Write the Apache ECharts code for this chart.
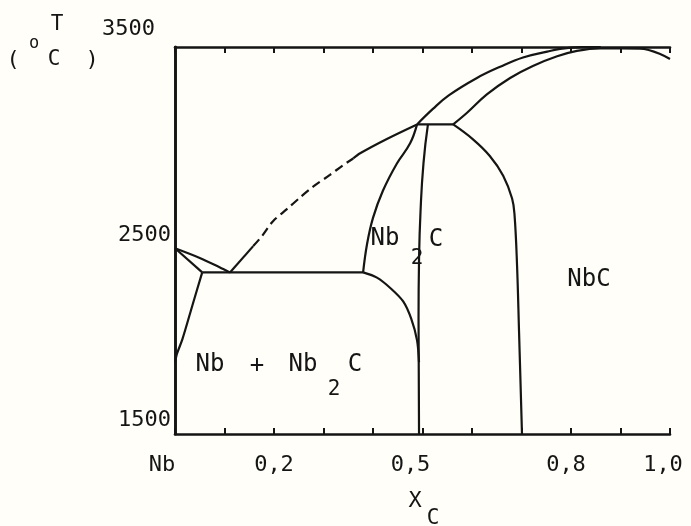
<!DOCTYPE html>
<html>
<head>
<meta charset="utf-8">
<script src="https://cdn.jsdelivr.net/npm/echarts@6/dist/echarts.min.js"></script>
<style>
  html, body { margin: 0; padding: 0; background: #fffef8; }
  #chart { width: 691px; height: 526px; }
</style>
</head>
<body>
<div id="chart"></div>
<script>
// Nb–C phase diagram: composition x_C (0..1) against temperature in °C.

// Axis tick labels
const xLabelValues = [0, 0.2, 0.5, 0.8, 1.0];
const xLabelTexts = ['Nb', '0,2', '0,5', '0,8', '1,0'];
const yLabelValues = [1500, 2500, 3500];

// Phase boundaries, [x_C, T]
const nbLiquidus = [[0, 2460], [0.05, 2410], [0.09, 2362], [0.111, 2335]];
const nbSolidus = [[0, 2460], [0.055, 2335]];
const nbSolvus = [[0.055, 2335], [0.036, 2172], [0.015, 1990], [0.004, 1915], [0, 1870]];
const eutecticLine = [[0.055, 2335], [0.38, 2335]];
const liquidusLowSolid = [[0.111, 2335], [0.158, 2471]];
const liquidusLowDashed = [[0.158, 2471], [0.176, 2524], [0.198, 2600], [0.226, 2662], [0.253, 2723],
                           [0.279, 2778], [0.313, 2839], [0.339, 2888], [0.36, 2924]];
const liquidusMidSolid = [[0.36, 2924], [0.374, 2951], [0.428, 3025], [0.489, 3100]];
const nb2cLeft = [[0.38, 2335], [0.388, 2482], [0.40, 2617], [0.42, 2757], [0.448, 2897], [0.475, 3002], [0.489, 3100]];
const nb2cSolvus = [[0.38, 2335], [0.408, 2308], [0.436, 2252], [0.461, 2185], [0.477, 2097], [0.489, 1984], [0.493, 1871]];
const nb2cRight = [[0.511, 3100], [0.502, 2900], [0.496, 2650], [0.493, 2400], [0.492, 2100], [0.493, 1500]];
const peritecticLine = [[0.489, 3100], [0.562, 3100]];
const nbcLeft = [[0.562, 3100], [0.602, 3023], [0.636, 2937], [0.663, 2835], [0.681, 2717], [0.686, 2630],
                 [0.691, 2372], [0.695, 2032], [0.701, 1500]];
const liquidusHigh = [[0.489, 3100], [0.521, 3180], [0.553, 3250], [0.610, 3340], [0.657, 3398], [0.703, 3446],
                      [0.752, 3476], [0.778, 3490], [0.82, 3499], [0.86, 3500]];
const nbcSolidus = [[0.562, 3100], [0.590, 3160], [0.630, 3255], [0.677, 3340], [0.723, 3402], [0.772, 3452],
                    [0.812, 3480], [0.859, 3493], [0.939, 3492], [1.0, 3438]];

const INK = '#151515';
const FONT = 'DejaVu Sans Mono';

function boundary(data, opts) {
  opts = opts || {};
  return {
    type: 'line',
    data: data,
    showSymbol: false,
    silent: true,
    smooth: opts.smooth || 0,
    lineStyle: { color: INK, width: 2.2, type: opts.dash || 'solid' },
    z: 3
  };
}

const chart = echarts.init(document.getElementById('chart'), null, { renderer: 'canvas' });

function xLabel(v) {
  const r = Math.round(v * 10) / 10;
  const i = xLabelValues.findIndex(t => Math.abs(t - r) < 1e-6);
  if (i < 0 || Math.abs(v - r) > 1e-6) return '';
  return '{l' + i + '|' + xLabelTexts[i] + '}';
}
function yLabel(v) {
  const i = yLabelValues.indexOf(v);
  if (i < 0) return '';
  return '{y' + i + '|' + v + '}';
}

const labelFont = { fontFamily: FONT, fontSize: 22, color: INK };

chart.setOption({
  backgroundColor: '#fffef8',
  animation: false,
  grid: { left: 175, right: 21, top: 47, bottom: 92 },
  xAxis: [{
    type: 'value', min: 0, max: 1, interval: 0.1, position: 'bottom',
    axisLine: { lineStyle: { color: INK, width: 2.6 } },
    axisTick: { inside: true, length: 6, lineStyle: { color: INK, width: 2 } },
    splitLine: { show: false },
    axisLabel: {
      margin: 20, formatter: xLabel,
      rich: {
        l0: Object.assign({ padding: [0, 26, 0, 0] }, labelFont),
        l1: Object.assign({ padding: [0, 0, 0, 0] }, labelFont),
        l2: Object.assign({ padding: [0, 24, 0, 0] }, labelFont),
        l3: Object.assign({ padding: [0, 10, 0, 0] }, labelFont),
        l4: Object.assign({ padding: [0, 14, 0, 0] }, labelFont)
      }
    }
  }, {
    type: 'value', min: 0, max: 1, interval: 0.1, position: 'top',
    axisLine: { lineStyle: { color: INK, width: 2.6 } },
    axisTick: { inside: true, length: 6, lineStyle: { color: INK, width: 2 } },
    axisLabel: { show: false },
    splitLine: { show: false }
  }],
  yAxis: [{
    type: 'value', min: 1500, max: 3500, interval: 500, position: 'left',
    axisLine: { show: true, lineStyle: { color: INK, width: 2.6 } },
    axisTick: { show: false },
    splitLine: { show: false },
    axisLabel: {
      margin: 4, formatter: yLabel,
      rich: {
        y0: Object.assign({ padding: [0, 0, 28, 0] }, labelFont),
        y1: Object.assign({ padding: [0, 0, 11, 0] }, labelFont),
        y2: Object.assign({ padding: [0, 16, 36, 0] }, labelFont)
      }
    }
  }, {
    type: 'value', min: 1500, max: 3500, interval: 500, position: 'right',
    axisLine: { show: true, lineStyle: { color: INK, width: 2.6 } },
    axisTick: { show: false },
    axisLabel: { show: false },
    splitLine: { show: false }
  }],
  series: [
    boundary(nbLiquidus, { smooth: 0.3 }),
    boundary(nbSolidus),
    boundary(nbSolvus, { smooth: 0.3 }),
    boundary(eutecticLine),
    boundary(liquidusLowSolid),
    boundary(liquidusLowDashed, { smooth: 0.3, dash: [9, 5] }),
    boundary(liquidusMidSolid, { smooth: 0.3 }),
    boundary(nb2cLeft, { smooth: 0.4 }),
    boundary(nb2cSolvus, { smooth: 0.3 }),
    boundary(nb2cRight, { smooth: 0.5 }),
    boundary(peritecticLine),
    boundary(nbcLeft, { smooth: 0.4 }),
    boundary(liquidusHigh, { smooth: 0.4 }),
    boundary(nbcSolidus, { smooth: 0.4 })
  ],
  graphic: [
    // axis titles
    { type: 'text', x: 57, y: 25, style: { text: 'T', font: '21px ' + FONT, fill: INK, align: 'center', verticalAlign: 'middle' } },
    { type: 'text', x: 13, y: 60, style: { text: '(', font: '22px ' + FONT, fill: INK, align: 'center', verticalAlign: 'middle' } },
    { type: 'text', x: 34, y: 44, style: { text: 'o', font: '17px ' + FONT, fill: INK, align: 'center', verticalAlign: 'middle' } },
    { type: 'text', x: 54, y: 60, style: { text: 'C', font: '21px ' + FONT, fill: INK, align: 'center', verticalAlign: 'middle' } },
    { type: 'text', x: 92, y: 60, style: { text: ')', font: '22px ' + FONT, fill: INK, align: 'center', verticalAlign: 'middle' } },
    { type: 'text', x: 415, y: 501, style: { text: 'X', font: '22px ' + FONT, fill: INK, align: 'center', verticalAlign: 'middle' } },
    { type: 'text', x: 433, y: 519, style: { text: 'C', font: '21px ' + FONT, fill: INK, align: 'center', verticalAlign: 'middle' } },
    // phase field names
    { type: 'text', x: 210, y: 365, style: { text: 'Nb', font: '24px ' + FONT, fill: INK, align: 'center', verticalAlign: 'middle' } },
    { type: 'text', x: 257, y: 366, style: { text: '+', font: '24px ' + FONT, fill: INK, align: 'center', verticalAlign: 'middle' } },
    { type: 'text', x: 303, y: 365, style: { text: 'Nb', font: '24px ' + FONT, fill: INK, align: 'center', verticalAlign: 'middle' } },
    { type: 'text', x: 334, y: 390, style: { text: '2', font: '21px ' + FONT, fill: INK, align: 'center', verticalAlign: 'middle' } },
    { type: 'text', x: 355, y: 365, style: { text: 'C', font: '24px ' + FONT, fill: INK, align: 'center', verticalAlign: 'middle' } },
    { type: 'text', x: 385, y: 239, style: { text: 'Nb', font: '24px ' + FONT, fill: INK, align: 'center', verticalAlign: 'middle' } },
    { type: 'text', x: 417, y: 259, style: { text: '2', font: '21px ' + FONT, fill: INK, align: 'center', verticalAlign: 'middle' } },
    { type: 'text', x: 436, y: 240, style: { text: 'C', font: '24px ' + FONT, fill: INK, align: 'center', verticalAlign: 'middle' } },
    { type: 'text', x: 589, y: 280, style: { text: 'NbC', font: '24px ' + FONT, fill: INK, align: 'center', verticalAlign: 'middle' } }
  ]
});
</script>
</body>
</html>
